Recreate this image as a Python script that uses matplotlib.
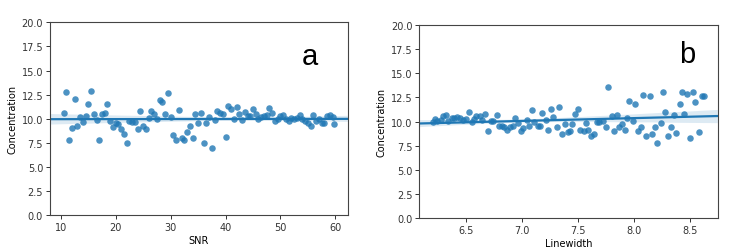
import numpy as np
import matplotlib
matplotlib.use("Agg")
import matplotlib.pyplot as plt
import seaborn as sns

# panel a: SNR vs concentration
snr = [10.5, 11.0, 11.5, 12.0, 12.5, 13.0, 13.5, 14.0, 14.5, 15.0, 15.5, 16.0,
       16.5, 17.0, 17.5, 18.0, 18.5, 19.0, 19.5, 20.0, 20.5, 21.0, 21.5, 22.0,
       22.5, 23.0, 23.5, 24.0, 24.5, 25.0, 25.5, 26.0, 26.5, 27.0, 27.5, 28.0,
       28.5, 29.0, 29.5, 30.0, 30.5, 31.0, 31.5, 32.0, 32.5, 33.0, 33.5, 34.0,
       34.5, 35.0, 35.5, 36.0, 36.5, 37.0, 37.5, 38.0, 38.5, 39.0, 39.5, 40.0,
       40.5, 41.0, 41.5, 42.0, 42.5, 43.0, 43.5, 44.0, 44.5, 45.0, 45.5, 46.0,
       46.5, 47.0, 47.5, 48.0, 48.5, 49.0, 49.5, 50.0, 50.5, 51.0, 51.5, 52.0,
       52.5, 53.0, 53.5, 54.0, 54.5, 55.0, 55.5, 56.0, 56.5, 57.0, 57.5, 58.0,
       58.5, 59.0, 59.5]
conc_a = [10.64, 12.78, 7.80, 9.08, 12.02, 9.26, 10.22, 9.67, 10.29, 11.57, 12.85, 10.47,
          9.88, 7.80, 10.47, 10.64, 11.50, 9.74, 9.19, 9.60, 9.50, 8.98, 8.39, 7.46,
          9.78, 9.67, 9.67, 8.91, 10.85, 9.26, 8.91, 10.12, 10.81, 10.47, 9.95, 11.95,
          11.74, 10.47, 12.68, 10.19, 8.36, 7.80, 10.95, 8.05, 7.80, 8.64, 9.26, 8.01,
          10.47, 9.53, 10.57, 7.53, 9.53, 10.22, 6.98, 9.88, 10.81, 10.57, 10.47, 8.08,
          11.33, 10.98, 9.95, 11.23, 10.47, 9.88, 10.71, 10.29, 10.29, 11.05, 10.47, 9.95,
          10.19, 10.29, 10.36, 11.16, 10.57, 9.78, 10.02, 10.29, 10.36, 9.95, 9.78, 10.12,
          10.02, 10.12, 10.36, 10.02, 9.78, 9.60, 9.26, 10.36, 9.78, 10.02, 9.60, 9.53,
          10.29, 10.36, 10.22]
# last point slightly off the grid
snr = snr + [59.8]
conc_a = conc_a + [9.43]

# panel b: linewidth vs concentration
lw = [6.20, 6.22, 6.24, 6.27, 6.29, 6.32, 6.34, 6.37, 6.39, 6.42, 6.44, 6.47,
      6.50, 6.52, 6.55, 6.57, 6.59, 6.62, 6.64, 6.67, 6.69, 6.72, 6.74, 6.77,
      6.79, 6.82, 6.84, 6.86, 6.89, 6.92, 6.94, 6.96, 6.99, 7.01, 7.04, 7.06,
      7.09, 7.11, 7.14, 7.16, 7.18, 7.21, 7.23, 7.26, 7.28, 7.31, 7.33, 7.36,
      7.38, 7.41, 7.43, 7.45, 7.47, 7.50, 7.52, 7.55, 7.57, 7.59, 7.62, 7.64,
      7.67, 7.69, 7.72, 7.75, 7.77, 7.80, 7.82, 7.85, 7.87, 7.89, 7.92, 7.94,
      7.96, 7.99, 8.01, 8.04, 8.06, 8.08, 8.11, 8.14, 8.16, 8.19, 8.21, 8.24,
      8.26, 8.28, 8.31, 8.33, 8.36, 8.38, 8.41, 8.43, 8.45, 8.48, 8.50, 8.53,
      8.55, 8.58, 8.61, 8.63]
conc_b = [9.91, 10.26, 10.09, 10.19, 10.54, 10.67, 10.09, 10.33, 10.40, 10.50, 10.33, 10.19,
          10.26, 10.95, 9.91, 10.26, 10.60, 10.60, 10.19, 10.78, 9.02, 10.09, 10.09, 10.67,
          9.57, 9.57, 9.40, 9.12, 9.40, 9.57, 10.33, 9.84, 9.05, 9.29, 10.19, 9.57,
          11.23, 9.98, 9.57, 9.57, 10.88, 10.19, 9.12, 11.30, 10.43, 9.46, 11.47, 8.70,
          9.74, 8.88, 9.05, 9.74, 10.74, 11.30, 9.12, 8.98, 9.84, 9.12, 8.46, 8.70,
          9.91, 9.91, 10.09, 9.46, 13.54, 10.54, 8.98, 10.67, 9.40, 9.74, 9.12, 10.33,
          12.16, 10.09, 11.78, 9.02, 9.46, 12.78, 8.53, 12.61, 8.70, 9.40, 7.77, 9.84,
          13.09, 10.95, 8.53, 9.40, 10.67, 8.81, 11.78, 13.09, 10.78, 12.85, 8.26, 13.09,
          11.99, 8.88, 12.61, 12.61]

fig = plt.figure(figsize=(7.4, 2.51), dpi=100)
ax1 = fig.add_axes([0.0676, 0.139, 0.4024, 0.768])
ax2 = fig.add_axes([0.5666, 0.1275, 0.4034, 0.7685])

scatter_kw = {"s": 22, "alpha": 0.8, "linewidths": 0}

sns.regplot(x=np.array(snr), y=np.array(conc_a), ax=ax1, truncate=False,
            scatter_kws=scatter_kw, line_kws={"lw": 1.6}, seed=0)
sns.regplot(x=np.array(lw), y=np.array(conc_b), ax=ax2, truncate=False,
            scatter_kws=scatter_kw, line_kws={"lw": 1.6}, seed=0)

for ax, xlabel, tag, pos in [(ax1, "SNR", "a", (0.872, 0.824)),
                              (ax2, "Linewidth", "b", (0.896, 0.85))]:
    ax.set_ylim(0, 20)
    ax.set_yticks(np.arange(0, 20.1, 2.5))
    ax.set_xlabel(xlabel, fontsize=7, labelpad=2)
    ax.set_ylabel("Concentration", fontsize=7, labelpad=3)
    ax.tick_params(labelsize=7, length=3, width=0.7, pad=2, colors="#333333")
    for sp in ax.spines.values():
        sp.set_linewidth(0.8)
        sp.set_color("#444444")
    ax.text(pos[0], pos[1], tag, transform=ax.transAxes, ha="center", va="center",
            fontsize=21, family="Liberation Sans")

fig.savefig("out.png", dpi=100)
